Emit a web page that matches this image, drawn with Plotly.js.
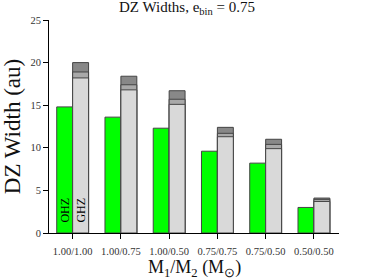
<!DOCTYPE html>
<html><head><meta charset="utf-8">
<script src="https://cdn.plot.ly/plotly-3.0.1.min.js"></script>
<style>html,body{margin:0;padding:0;background:#fff}#c{width:374px;height:280px}</style>
</head><body><div id="c"></div>
<script>
var categories = ["1.00/1.00","1.00/0.75","1.00/0.50","0.75/0.75","0.75/0.50","0.50/0.50"];
var ohz = [14.8, 13.6, 12.3, 9.6, 8.2, 3.0];
var ghzLow = [18.2, 16.8, 15.1, 11.3, 9.9, 3.7];
var ghzMid = [18.9, 17.4, 15.7, 11.7, 10.4, 3.95];
var ghzHigh = [20.0, 18.4, 16.7, 12.4, 11.0, 4.1];

var F = "Liberation Serif";
var line = {color:"#444", width:1};
function bar(y, color, off){
  return {type:"bar", x:categories, y:y, width:0.33, offset:off,
    marker:{color:color, line:line}, hoverinfo:"none", showlegend:false};
}
var data = [
  bar(ohz, "#00ff00", -0.33),
  bar(ghzHigh, "#888888", 0),
  bar(ghzMid, "#a9a9a9", 0),
  bar(ghzLow, "#d9d9d9", 0)
];
var layout = {
  width:374, height:280,
  margin:{l:49, r:35, t:20, b:47},
  paper_bgcolor:"#fff", plot_bgcolor:"#fff",
  barmode:"overlay",
  showlegend:false,
  font:{family:F, color:"#111"},
  title:{text:"DZ Widths, e<sub>bin</sub> = 0.75", font:{size:15, family:F, color:"#111"}, x:0.5, xanchor:"center", y:0.995, yanchor:"top"},
  xaxis:{type:"category", range:[-0.49, 5.52], showgrid:false, zeroline:false,
    showline:true, linecolor:"#000", linewidth:1, ticks:"outside", ticklen:5, tickcolor:"#000",
    ticklabelstandoff:3,
    tickfont:{size:10.5, family:F, color:"#333"}},
  yaxis:{range:[0,25], tickvals:[0,5,10,15,20,25], showgrid:false, zeroline:false,
    showline:true, linecolor:"#000", linewidth:1, ticks:"outside", ticklen:5, tickcolor:"#000",
    tickfont:{size:10.5, family:F, color:"#333"},
    title:{text:"DZ Width (au)", font:{size:23, family:F, color:"#111"}, standoff:4}},
  annotations:[
    {x:0.5, xref:"paper", y:0, yref:"paper", yanchor:"top", yshift:-22, text:"M<sub>1</sub>/M<sub>2</sub> (M<sub>⊙</sub>)", showarrow:false, font:{size:18, family:F, color:"#111"}},
    {x:0, xref:"x", xshift:-8, y:1.0, yref:"y", yanchor:"bottom", text:"OHZ", textangle:-90, showarrow:false, font:{size:12, family:F, color:"#000"}},
    {x:0, xref:"x", xshift:8, y:1.0, yref:"y", yanchor:"bottom", text:"GHZ", textangle:-90, showarrow:false, font:{size:12, family:F, color:"#000"}}
  ]
};
Plotly.newPlot("c", data, layout, {displayModeBar:false, staticPlot:true});
</script></body></html>
